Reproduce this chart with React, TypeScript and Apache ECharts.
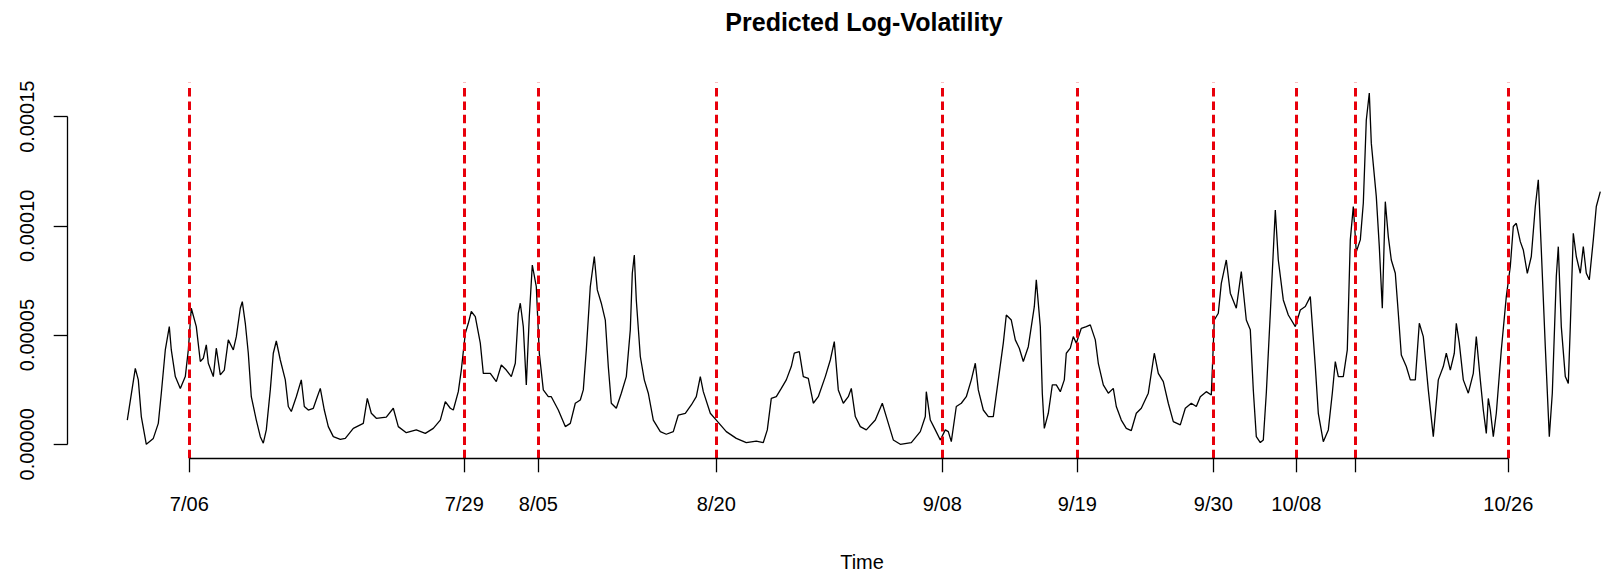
import React, { useEffect, useRef } from "react";
import * as echarts from "echarts";

// observation index (sample number along the time axis)
const obsIdx = [
  0, 8, 11, 14, 19, 26, 31, 34, 38, 42, 44, 48, 53, 58, 61, 64, 69, 73, 76, 79,
  81, 86, 89, 93, 97, 101, 106, 109, 113, 115, 118, 121, 124, 129, 133, 136, 139, 143, 146, 149,
  153, 158, 161, 164, 169, 174, 177, 181, 186, 190, 193, 197, 201, 206, 213, 218, 226, 236, 240, 244,
  249, 259, 266, 271, 279, 289, 298, 306, 313, 318, 323, 326, 331, 334, 338, 341, 344, 348, 353,
  356, 363, 369, 374, 379, 384, 388, 391, 393, 396, 399, 402, 405, 409, 412, 416, 421, 424, 431, 438,
  443, 448, 453, 456, 459, 463, 467, 470, 474, 478, 481, 484, 489, 494, 499, 503, 505, 507, 509, 513,
  517, 521, 526, 533, 539, 546, 551, 558, 564, 569, 573, 576, 583, 589, 599, 609, 619, 629, 636, 640,
  644, 649, 654, 659, 664, 667, 672, 676, 681, 686, 691, 698, 703, 707, 711, 716, 721, 724, 728,
  733, 739, 748, 755, 759, 766, 773, 784, 793, 798, 799, 803, 808, 813, 818, 821, 824, 829, 834, 839,
  844, 848, 851, 856, 861, 866, 871, 876, 879, 884, 888, 892, 896, 901, 904, 907, 909, 913, 915, 917,
  921, 925, 929, 933, 937, 939, 943, 946, 949, 954, 959, 963, 968, 971, 976, 981, 986, 989, 994, 999,
  1004, 1009, 1014, 1021, 1027, 1031, 1036, 1041, 1046, 1053, 1058, 1064, 1069,
  1073, 1079, 1084, 1087, 1091, 1094, 1099, 1103, 1109, 1114, 1119, 1123, 1126, 1129, 1133, 1136, 1139, 1143, 1148, 1151,
  1156, 1161, 1168, 1173, 1178, 1183, 1188, 1191, 1196, 1201, 1205, 1208, 1211, 1216, 1220, 1223, 1226, 1229, 1233, 1236,
  1239, 1242, 1244, 1249, 1252, 1255, 1258, 1261, 1264, 1268, 1271, 1274, 1279, 1283, 1288, 1292, 1296, 1301, 1306, 1311,
  1316, 1319, 1323, 1327, 1329, 1332, 1336, 1341, 1346, 1349, 1353, 1356, 1359, 1361, 1363, 1366, 1369, 1374, 1379, 1383,
  1386, 1389, 1393, 1396, 1400, 1404, 1408, 1411, 1414, 1418, 1422, 1425, 1429, 1431, 1434, 1438, 1441, 1443, 1446, 1449,
  1453, 1456, 1459, 1462, 1466, 1469, 1473,
];

// predicted log-volatility, in units of 1e-5
const volE5 = [
  1.11, 3.48, 2.95, 1.27, 0.0, 0.27, 0.96, 2.34, 4.32, 5.39, 4.32, 3.1, 2.56, 3.1, 4.32, 6.23, 5.39, 3.79, 3.94, 4.55,
  3.71, 3.1, 4.4, 3.18, 3.4, 4.78, 4.32, 4.93, 6.23, 6.53, 5.54, 4.17, 2.18, 1.11, 0.35, 0.05, 0.66, 2.49, 4.17, 4.73,
  3.86, 2.95, 1.73, 1.5, 2.18, 2.95, 1.73, 1.57, 1.65, 2.18, 2.56, 1.57, 0.81, 0.35, 0.23, 0.27, 0.73, 0.96, 2.1, 1.42,
  1.19, 1.24, 1.65, 0.81, 0.53, 0.66, 0.5, 0.73, 1.11, 1.95, 1.65, 1.57, 2.41, 3.4, 5.08, 5.54, 6.08, 5.85, 4.63,
  3.25, 3.25, 2.87, 3.63, 3.4, 3.1, 3.71, 6.0, 6.46, 5.39, 2.72, 5.85, 8.21, 7.22, 4.17, 2.49, 2.18, 2.18, 1.57, 0.81,
  0.96, 1.88, 2.03, 2.49, 4.32, 7.22, 8.6, 7.07, 6.46, 5.69, 3.56, 1.88, 1.65, 2.34, 3.1, 5.24, 7.83, 8.67, 6.61, 4.02,
  2.95, 2.34, 1.11, 0.58, 0.46, 0.58, 1.34, 1.42, 1.8, 2.18, 3.1, 2.41, 1.42, 1.11, 0.58, 0.27, 0.08, 0.15, 0.08, 0.66,
  2.1, 2.18, 2.56, 2.95, 3.56, 4.17, 4.24, 3.1, 3.02, 1.88, 2.18, 3.1, 3.86, 4.7, 2.49, 1.88, 2.18, 2.56, 1.27,
  0.81, 0.66, 1.11, 1.88, 1.27, 0.2, 0.0, 0.08, 0.58, 1.27, 2.41, 1.11, 0.66, 0.2, 0.66, 0.58, 0.12, 1.73, 1.88, 2.18,
  2.95, 3.71, 2.49, 1.57, 1.27, 1.27, 2.95, 4.63, 5.92, 5.69, 4.78, 4.4, 3.79, 4.47, 5.39, 6.3, 7.53, 5.39, 2.34, 0.73,
  1.42, 2.72, 2.72, 2.41, 2.95, 4.17, 4.4, 4.93, 4.63, 5.31, 5.39, 5.47, 4.78, 3.71, 2.72, 2.34, 2.56, 1.73, 1.11, 0.73,
  0.63, 1.42, 1.65, 2.34, 4.17, 3.25, 2.87, 1.88, 1.04, 0.89, 1.65, 1.88, 1.73,
  2.18, 2.41, 2.26, 5.69, 6.0, 7.37, 8.44, 6.92, 6.23, 7.91, 5.69, 5.24, 2.49, 0.35, 0.08, 0.2, 2.34, 6.0, 10.73, 8.44,
  6.61, 5.92, 5.39, 6.15, 6.31, 6.76, 3.56, 1.42, 0.12, 0.66, 2.34, 3.79, 3.1, 3.1, 4.32, 9.36, 10.89, 8.82, 9.36, 11.04,
  14.85, 16.08, 13.79, 11.34, 9.05, 6.23, 11.11, 9.51, 8.44, 7.83, 6.0, 4.09, 3.56, 2.95, 2.95, 5.54, 4.93, 2.49, 0.35, 2.95,
  3.56, 4.17, 3.4, 4.17, 5.54, 4.63, 2.95, 2.34, 3.25, 4.93, 2.95, 1.57, 0.5, 2.1, 1.57, 0.35, 1.42, 4.32, 6.76, 8.14,
  9.97, 10.12, 9.28, 8.9, 7.83, 8.6, 10.89, 12.11, 8.9, 4.47, 0.35, 2.34, 7.68, 9.05, 5.39, 3.1, 2.79, 5.39, 9.66, 8.6,
  7.83, 9.05, 7.83, 7.53, 9.36, 10.89, 11.57,
];

// event dates (red dashed lines) and x tick labels
const eventIdx = [62, 337, 411, 589, 815, 950, 1086, 1169, 1228, 1381];
const eventLabels = ["7/06", "7/29", "8/05", "8/20", "9/08", "9/19", "9/30", "10/08", "", "10/26"];

// y ticks
const yTicks = [0, 0.00005, 0.0001, 0.00015];

// axis ranges
const X_MIN = -59.6;
const X_MAX = 1474.7;
const Y_MIN = -0.00000641;
const Y_MAX = 0.00016557;
const UNIT = 1e-5;

export default function App() {
  const ref = useRef<HTMLDivElement>(null);

  useEffect(() => {
    document.body.style.margin = "0";
    if (!ref.current) return;
    const chart = echarts.init(ref.current, undefined, { renderer: "svg" });
    const data = obsIdx.map((t, i) => [t, volE5[i] * UNIT]);
    const font = "Liberation Sans";
    const axisStroke = { color: "#000", width: 1.3 };

    const redLines = eventIdx.map((t) => ({
      xAxis: t,
      lineStyle: { color: "#e8000b", width: 3, type: [8.5, 4.9] },
    }));

    const option: any = {
      animation: false,
      backgroundColor: "#ffffff",
      grid: {
        left: 67.7,
        right: 0,
        top: 82.7,
        bottom: 116.7,
        containLabel: false,
        outerBoundsMode: "none",
      },
      xAxis: {
        type: "value",
        min: X_MIN,
        max: X_MAX,
        axisLine: { show: false, onZero: false },
        splitLine: { show: false },
        axisTick: {
          show: true,
          customValues: eventIdx,
          length: 14,
          lineStyle: axisStroke,
        },
        axisLabel: {
          customValues: eventIdx,
          formatter: (v: number) => {
            const i = eventIdx.indexOf(Math.round(v));
            return i >= 0 ? eventLabels[i] : "";
          },
          margin: 36,
          fontSize: 20,
          fontFamily: font,
          color: "#000",
        },
      },
      yAxis: {
        type: "value",
        min: Y_MIN,
        max: Y_MAX,
        axisLine: { show: false, onZero: false },
        splitLine: { show: false },
        axisTick: {
          show: true,
          customValues: yTicks,
          length: 14,
          lineStyle: axisStroke,
        },
        axisLabel: {
          customValues: yTicks,
          rotate: 90,
          formatter: (v: number) => v.toFixed(5),
          margin: 31,
          fontSize: 20,
          fontFamily: font,
          color: "#000",
        },
      },
      series: [
        {
          type: "line",
          data,
          symbol: "none",
          showSymbol: false,
          clip: false,
          lineStyle: { color: "#000", width: 1.3 },
          markLine: {
            silent: true,
            symbol: "none",
            animation: false,
            label: { show: false },
            data: [
              ...redLines,
              [
                { coord: [eventIdx[0], Y_MIN], lineStyle: { color: "#000", width: 1.3, type: "solid" } },
                { coord: [eventIdx[eventIdx.length - 1], Y_MIN] },
              ],
              [
                { coord: [X_MIN, yTicks[0]], lineStyle: { color: "#000", width: 1.3, type: "solid" } },
                { coord: [X_MIN, yTicks[yTicks.length - 1]] },
              ],
            ],
          },
        },
      ],
      graphic: [
        {
          type: "text",
          x: 864,
          y: 22,
          style: {
            text: "Predicted Log-Volatility",
            font: `bold 25px "${font}"`,
            fill: "#000",
            align: "center",
            verticalAlign: "middle",
          },
        },
        {
          type: "text",
          x: 862,
          y: 562,
          style: {
            text: "Time",
            font: `20px "${font}"`,
            fill: "#000",
            align: "center",
            verticalAlign: "middle",
          },
        },
      ],
    };

    chart.setOption(option);
    return () => chart.dispose();
  }, []);

  return <div ref={ref} style={{ width: 1602, height: 575 }} />;
}
